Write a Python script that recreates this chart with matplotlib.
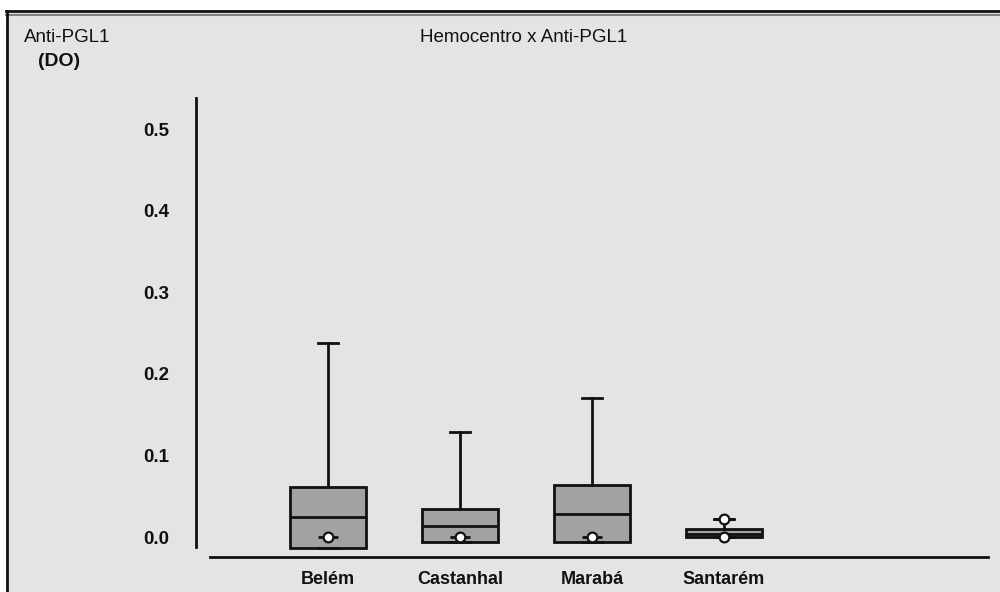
import matplotlib
matplotlib.use("Agg")
import matplotlib.pyplot as plt
from matplotlib.patches import Rectangle
from matplotlib.lines import Line2D

plt.rcParams['font.family'] = ['Liberation Sans', 'DejaVu Sans']

# ---- data ----
categories = ["Belém", "Castanhal", "Marabá", "Santarém"]
q1 = [-0.013, -0.006, -0.006, 0.000]
median = [0.024, 0.014, 0.028, 0.004]
q3 = [0.061, 0.034, 0.064, 0.0094]
whisker_hi = [0.238, 0.129, 0.170, 0.022]
center_marker = [0.0, 0.0, 0.0, 0.0]
extra_marker_cat = ["Santarém"]
extra_marker_val = [0.022]
yticks = [0.0, 0.1, 0.2, 0.3, 0.4, 0.5]

W, H = 1000, 592
fig = plt.figure(figsize=(W / 100, H / 100), dpi=100, facecolor="white")

def fx(px):
    return px / W

def fy(py):
    return 1 - py / H

# gray panel and frame
fig.add_artist(Rectangle((fx(6), 0), 1 - fx(6), fy(11), transform=fig.transFigure,
                         facecolor="#e4e4e4", edgecolor="none", zorder=0))
fig.add_artist(Line2D([fx(6), 1], [fy(11), fy(11)], transform=fig.transFigure,
                      color="#111111", lw=2.0))
fig.add_artist(Line2D([fx(6), 1], [fy(14.5), fy(14.5)], transform=fig.transFigure,
                      color="#808080", lw=1.5))
fig.add_artist(Line2D([fx(7), fx(7)], [0, fy(11)], transform=fig.transFigure,
                      color="#111111", lw=2.0))

# axes: x pixels 196..988, y pixels 98..557
ax_left, ax_right = 196, 988
ax_top, ax_bot = 98, 557
ax = fig.add_axes([fx(ax_left), fy(ax_bot), fx(ax_right - ax_left), (ax_bot - ax_top) / H])
ax.set_facecolor("none")
ppu = 816.0  # pixels per unit in y
y0_px = 537
ax.set_ylim(-(ax_bot - y0_px) / ppu, (y0_px - ax_top) / ppu)
ax.set_xlim(0, 6)

positions = list(range(1, len(categories) + 1))
stats = []
for i, c in enumerate(categories):
    stats.append(dict(label=c, q1=q1[i], med=median[i], q3=q3[i],
                      whislo=q1[i], whishi=whisker_hi[i], fliers=[]))

ax.bxp(stats, positions=positions, widths=0.58, showfliers=False, patch_artist=True,
       capwidths=0.15,
       boxprops=dict(facecolor="#a2a2a2", edgecolor="#111111", linewidth=2.0),
       medianprops=dict(color="#111111", linewidth=2.0),
       whiskerprops=dict(color="#111111", linewidth=2.0),
       capprops=dict(color="#111111", linewidth=2.0))

# center markers (-o- glyph)
def glyph(xs, ys):
    ax.plot(xs, ys, linestyle="none", marker="_", markersize=15,
            markeredgewidth=2.0, color="#111111", zorder=5)
    ax.plot(xs, ys, linestyle="none", marker="o", markersize=7,
            markerfacecolor="white", markeredgecolor="#111111", markeredgewidth=1.6, zorder=6)

glyph(positions, center_marker)
ex_pos = [positions[categories.index(c)] for c in extra_marker_cat]
glyph(ex_pos, extra_marker_val)

# spines
for s in ["top", "right"]:
    ax.spines[s].set_visible(False)
ax.spines["left"].set_linewidth(2.0)
ax.spines["left"].set_color("#111111")
ax.spines["left"].set_bounds(-(547 - y0_px) / ppu, (y0_px - ax_top) / ppu)
ax.spines["bottom"].set_linewidth(2.0)
ax.spines["bottom"].set_color("#111111")
ax.spines["bottom"].set_bounds((210 - ax_left) / 132.0, 6)

ax.set_yticks(yticks)
ax.set_yticklabels([f"{v:.1f}" for v in yticks])
ax.set_xticks(positions)
ax.set_xticklabels(categories)
ax.tick_params(axis="y", length=0, pad=19, labelsize=13.5)
ax.tick_params(axis="x", length=0, pad=10, labelsize=13)
for lab in ax.get_yticklabels() + ax.get_xticklabels():
    lab.set_fontweight("bold")
    lab.set_color("#111111")

# texts
fig.text(fx(524), fy(37), "Hemocentro x Anti-PGL1", ha="center", va="center",
         fontsize=13.5, color="#111111")
fig.text(fx(24), fy(37), "Anti-PGL1", ha="left", va="center", fontsize=13.5, color="#111111")
fig.text(fx(38), fy(61), "(DO)", ha="left", va="center", fontsize=14,
         fontweight="bold", color="#111111")

fig.savefig("out.png", dpi=100, facecolor="white")
